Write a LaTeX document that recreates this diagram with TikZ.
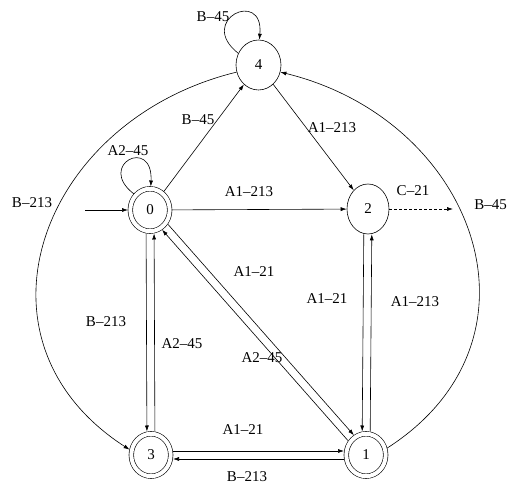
\documentclass[tikz,border=0pt]{standalone}
\usepackage{fontspec}
\setmainfont{Liberation Serif}
\usetikzlibrary{shapes.geometric,arrows.meta}
\begin{document}
\begin{tikzpicture}[x=1pt,y=1pt,
  line width=0.6pt,
  >={Latex[length=6pt,width=4pt]},
  st/.style={draw,ellipse,inner sep=0pt},
  acc/.style={draw,ellipse,inner sep=0pt,double,double distance=4pt,outer sep=2.3pt,
     minimum width=39.4pt,minimum height=42.4pt},
  lbl/.style={inner sep=0pt,font=\fontsize{15}{17}\selectfont},
  every node/.append style={font=\fontsize{15}{17}\selectfont}]
\useasboundingbox (0,0) rectangle (507,-486);
% states
\node[st,minimum width=45pt,minimum height=50pt] (n4) at (258.5,-65) {4};
\node[st,minimum width=42pt,minimum height=50pt] (n2) at (368,-209) {2};
\node[acc] (n0) at (150,-210) {0};
\node[acc] (n3) at (151,-455) {3};
\node[acc] (n1) at (366,-455) {1};
\coordinate (start) at (85,-210);
\coordinate (out2) at (453,-209);
% loops
\draw[->] (n4.150) .. controls (196,-20) and (264,12) .. (n4.88);
\draw[->] (n0.135) .. controls (96,-165) and (153,-136) .. (n0.88);
% straight edges
\draw[->] (start) -- (n0);
\draw[->] (n0) -- (n4);
\draw[->] (n4) -- (n2);
\draw[->] (n0) -- (n2);
\draw[->,dash pattern=on 3pt off 2pt] (n2) -- (out2);
% big arcs
\draw[->] (n4.198) .. controls (40,-120) and (-40,-340) .. (n3.166);
\draw[->] (n1.18) .. controls (556,-340) and (476,-120) .. (n4.342);
% double pairs
\draw[->,transform canvas={xshift=-4pt}] (n0) -- (n3);
\draw[->,transform canvas={xshift=4pt}] (n3) -- (n0);
\draw[->,transform canvas={xshift=-4pt}] (n2) -- (n1);
\draw[->,transform canvas={xshift=4pt}] (n1) -- (n2);
\draw[->,transform canvas={yshift=4pt}] (n3) -- (n1);
\draw[->,transform canvas={yshift=-4pt}] (n1) -- (n3);
\draw[->,transform canvas={shift={(3,2.65)}}] (n0) -- (n1);
\draw[->,transform canvas={shift={(-3,-2.65)}}] (n1) -- (n0);
% labels
\node[lbl] (l4loop) at (213,-17) {B--45};
\node[lbl] (l04) at (198,-120) {B--45};
\node[lbl] (l42) at (332,-128) {A1--213};
\node[lbl] (l0loop) at (128,-151) {A2--45};
\node[lbl] (l02) at (249,-192) {A1--213};
\node[lbl] (lC) at (413,-191) {C--21};
\node[lbl] (lleft) at (32,-203) {B--213};
\node[lbl,anchor=west] (lright) at (474,-205) {B--45};
\node[lbl] (ldiag1) at (254,-272) {A1--21};
\node[lbl] (l21) at (327,-299) {A1--21};
\node[lbl] (l12) at (415,-302) {A1--213};
\node[lbl] (l03) at (106,-322) {B--213};
\node[lbl] (l30) at (182,-344) {A2--45};
\node[lbl] (ldiag2) at (262,-358) {A2--45};
\node[lbl] (l31) at (243,-430) {A1--21};
\node[lbl] (l13) at (247,-477) {B--213};
\end{tikzpicture}
\end{document}
